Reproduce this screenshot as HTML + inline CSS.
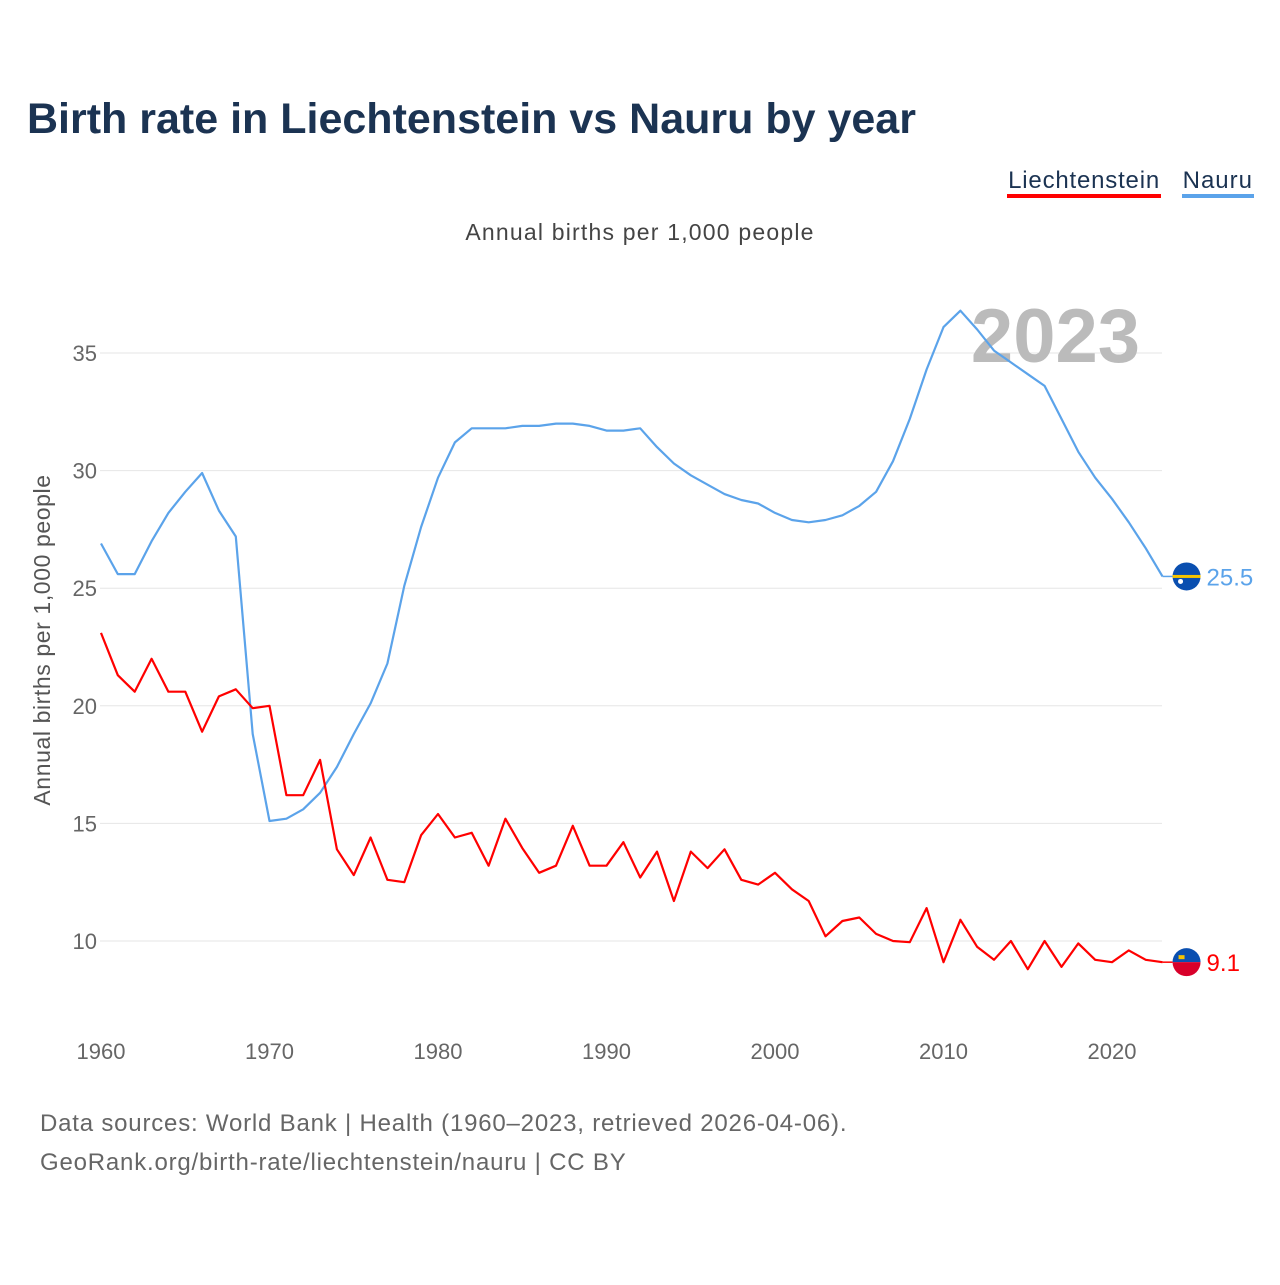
<!DOCTYPE html>
<html><head><meta charset="utf-8"><style>
body{margin:0;width:1280px;height:1280px;background:#fff;font-family:"Liberation Sans",sans-serif;overflow:hidden}
</style></head><body>
<svg width="1280" height="1280" viewBox="0 0 1280 1280" xmlns="http://www.w3.org/2000/svg">
<text x="27" y="133" font-size="43" font-weight="bold" fill="#1b3352">Birth rate in Liechtenstein vs Nauru by year</text>
<g>
<g><text x="1160" y="188" font-size="24" letter-spacing="0.8" text-anchor="end" fill="#1b3352">Liechtenstein</text><rect x="1007" y="194" width="154" height="4" fill="#ff0000"/></g>
<g><text x="1253" y="188" font-size="24" letter-spacing="1" text-anchor="end" fill="#1b3352">Nauru</text><rect x="1182" y="194" width="72" height="4" fill="#5ba3ea"/></g>
</g>
<text x="640" y="240" font-size="23" letter-spacing="1.2" text-anchor="middle" fill="#444">Annual births per 1,000 people</text>
<text transform="translate(50,640) rotate(-90)" font-size="23" letter-spacing="0.6" text-anchor="middle" fill="#555">Annual births per 1,000 people</text>
<g id="grid"></g><g id="yt"></g><g id="xt"></g>
<text x="1140" y="362" font-size="76" font-weight="bold" text-anchor="end" fill="#bbb">2023</text>
<g id="lines"></g>
<text x="40" y="1131" font-size="24" letter-spacing="0.8" fill="#666">Data sources: World Bank | Health (1960–2023, retrieved 2026-04-06).</text>
<text x="40" y="1170" font-size="24" letter-spacing="0.8" fill="#666">GeoRank.org/birth-rate/liechtenstein/nauru | CC BY</text>
</svg>
<script>
const years=[];for(let y=1960;y<=2023;y++)years.push(y);
const nauru=[26.9,25.6,25.6,27.0,28.2,29.1,29.9,28.3,27.2,18.8,15.1,15.2,15.6,16.3,17.4,18.8,20.1,21.8,25.1,27.6,29.7,31.2,31.8,31.8,31.8,31.9,31.9,32.0,32.0,31.9,31.7,31.7,31.8,31.0,30.3,29.8,29.4,29.0,28.75,28.6,28.2,27.9,27.8,27.9,28.1,28.5,29.1,30.4,32.2,34.3,36.1,36.8,36.0,35.1,34.6,34.1,33.6,32.2,30.8,29.7,28.8,27.8,26.7,25.5];
const liech=[23.1,21.3,20.6,22.0,20.6,20.6,18.9,20.4,20.7,19.9,20.0,16.2,16.2,17.7,13.9,12.8,14.4,12.6,12.5,14.5,15.4,14.4,14.6,13.2,15.2,13.95,12.9,13.2,14.9,13.2,13.2,14.2,12.7,13.8,11.7,13.8,13.1,13.9,12.6,12.4,12.9,12.2,11.7,10.2,10.85,11.0,10.3,10.0,9.95,11.4,9.1,10.9,9.75,9.2,10.0,8.8,10.0,8.9,9.9,9.2,9.1,9.6,9.2,9.1];
const yTicks=[10,15,20,25,30,35];
const xTicks=[1960,1970,1980,1990,2000,2010,2020];
const NS="http://www.w3.org/2000/svg";
const X=y=>101+(y-1960)*(1112-101)/60;
const Y=v=>941-(v-10)*23.52;
function mk(t,a,p){const e=document.createElementNS(NS,t);for(const k in a)e.setAttribute(k,a[k]);p.appendChild(e);return e;}
const grid=document.getElementById('grid'),yt=document.getElementById('yt'),xt=document.getElementById('xt'),lines=document.getElementById('lines');
yTicks.forEach(v=>{const l=mk('line',{x1:100,x2:1162,y1:Y(v),y2:Y(v),stroke:'#e6e6e6','stroke-width':1},grid);


const t=mk('text',{x:97,y:Y(v)+8,'font-size':22,'text-anchor':'end',fill:'#666'},yt);t.textContent=v;

});
xTicks.forEach(v=>{const t=mk('text',{x:X(v),y:1059,'font-size':22,'text-anchor':'middle',fill:'#666'},xt);t.textContent=v;

});
function line(data,color,name){const d=data.map((v,i)=>(i?'L':'M')+X(years[i]).toFixed(1)+','+Y(v).toFixed(1)).join('');
const p=mk('path',{d:d,fill:'none',stroke:color,'stroke-width':2.2,'stroke-linejoin':'round'},lines);


const last=data[data.length-1],lx=X(2023),ly=Y(last);
mk('line',{x1:lx,x2:lx+10,y1:ly,y2:ly,stroke:color,'stroke-width':1.5},lines);
const g=mk('g',{},lines);


const cx=lx+24;
if(name==='nauru'){mk('circle',{cx:cx,cy:ly,r:14,fill:'#0a4fb0'},g);mk('rect',{x:cx-14,y:ly-1.5,width:28,height:3,fill:'#f5c400'},g);mk('circle',{cx:cx-6,cy:ly+5,r:2.5,fill:'#fff'},g);}
else{mk('path',{d:`M${cx-14},${ly} A14,14 0 0 1 ${cx+14},${ly}Z`,fill:'#0a4fb0'},g);mk('path',{d:`M${cx-14},${ly} A14,14 0 0 0 ${cx+14},${ly}Z`,fill:'#d8002a'},g);mk('rect',{x:cx-8,y:ly-7,width:6,height:4,fill:'#f5c400'},g);}
const t=mk('text',{x:cx+20,y:ly+9,'font-size':24,fill:color},lines);t.textContent=last;

}
line(nauru,'#5ba3ea','nauru');
line(liech,'#ff0000','liechtenstein');
</script>
</body></html>
